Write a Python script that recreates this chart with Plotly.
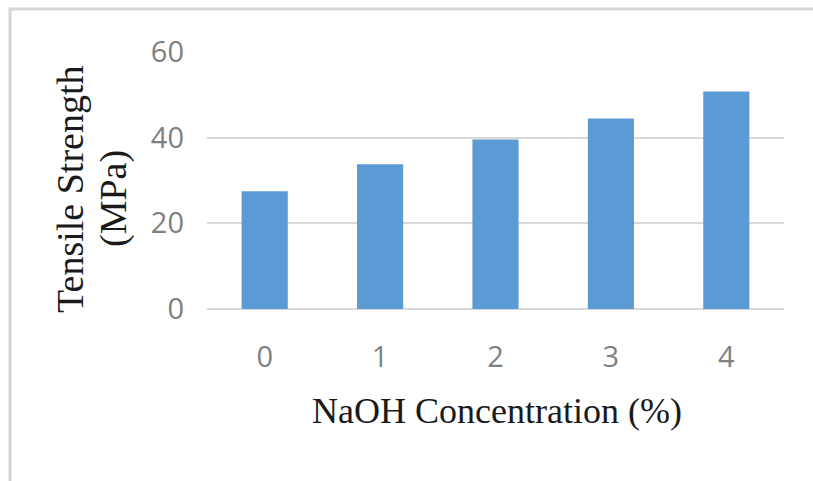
import plotly.graph_objects as go

# Tensile strength of fibres treated at different NaOH concentrations
naoh_pct = ["0", "1", "2", "3", "4"]
tensile_mpa = [27.5, 33.8, 39.6, 44.5, 50.8]
y_ticks = [0, 20, 40, 60]

x_title = "NaOH Concentration (%)"
y_title_lines = ["Tensile Strength", "(MPa)"]

BAR_BLUE = "#5b9bd5"
GRID = "#d9d9d9"
TICK_GREY = "#7f7f7f"

W, H = 813, 481
L, R, T, B = 207, 29, 52, 172
plot_w = W - L - R
plot_h = H - T - B


def px_to_paper_x(px):
    return (px - L) / plot_w


def px_to_paper_y(py):
    return (H - B - py) / plot_h


fig = go.Figure(
    go.Bar(
        x=naoh_pct,
        y=tensile_mpa,
        marker=dict(color=BAR_BLUE, line=dict(width=0)),
    )
)

fig.update_layout(
    width=W,
    height=H,
    margin=dict(l=L, r=R, t=T, b=B),
    paper_bgcolor="white",
    plot_bgcolor="white",
    bargap=0.6,
    showlegend=False,
    font=dict(family="Open Sans", color=TICK_GREY, size=29),
)

fig.update_xaxes(
    type="category",
    showgrid=False,
    showline=False,
    zeroline=False,
    ticks="",
    ticklabelstandoff=28,
    tickfont=dict(family="Open Sans", size=29, color=TICK_GREY),
)

fig.update_yaxes(
    range=[0, 60],
    tickvals=y_ticks,
    showgrid=True,
    gridcolor=GRID,
    gridwidth=1.5,
    zeroline=True,
    zerolinecolor=GRID,
    zerolinewidth=1.5,
    showline=False,
    ticks="",
    ticklabelstandoff=22,
    tickfont=dict(family="Open Sans", size=29, color=TICK_GREY),
)

# Axis titles in a serif face
fig.add_annotation(
    text=x_title,
    xref="paper", yref="paper",
    x=px_to_paper_x(497), y=px_to_paper_y(411),
    xanchor="center", yanchor="middle",
    showarrow=False,
    font=dict(family="Liberation Serif", size=36, color="#1a1a1a"),
)
for line, cx, cy in zip(y_title_lines, [70, 113], [190, 198]):
    fig.add_annotation(
        text=line,
        xref="paper", yref="paper",
        x=px_to_paper_x(cx), y=px_to_paper_y(cy),
        xanchor="center", yanchor="middle",
        textangle=-90,
        showarrow=False,
        font=dict(family="Liberation Serif", size=38, color="#1a1a1a"),
    )

# Light frame around the chart
fig.add_shape(
    type="rect",
    xref="paper", yref="paper",
    x0=px_to_paper_x(10), y0=px_to_paper_y(9),
    x1=px_to_paper_x(840), y1=px_to_paper_y(520),
    line=dict(color="#d6d6d6", width=3),
    fillcolor="rgba(0,0,0,0)",
    layer="below",
)

fig.write_html("out.html")
